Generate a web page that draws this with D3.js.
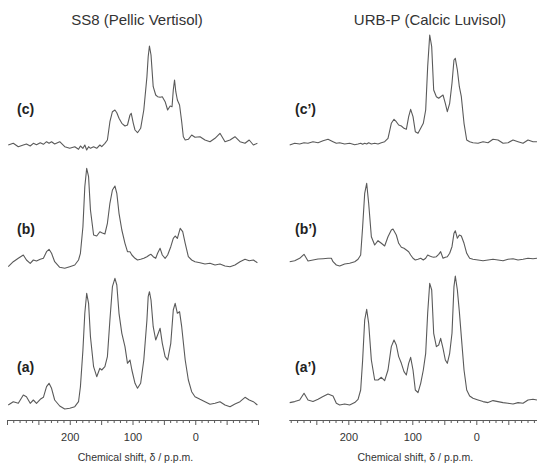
<!DOCTYPE html>
<html>
<head>
<meta charset="utf-8">
<script src="https://cdn.jsdelivr.net/npm/d3@7"></script>
<style>
  body { margin: 0; background: #fff; }
  svg { display: block; font-family: "Liberation Sans", Arial, sans-serif; }
</style>
</head>
<body>
<svg id="chart" width="537" height="466"></svg>
<script>
// spectra as [ppm, intensity] pairs
const ss8_a = [[298,0],[290,3.3],[282,1.7],[274,10],[269,8.3],[263,1.7],[258,5],[253,1.7],[247,5.7],[242,7.7],[237,18.3],[233,21.7],[229,16.7],[224,5],[216,-1],[208,-4],[200,-3.3],[192,-1.7],[186,3.3],[183,18.3],[179,55],[176,91.7],[173,111.7],[170,101.7],[167,68.3],[162,38.3],[157,28.3],[152,36.7],[149,35],[144,38.3],[140,48.3],[136,85],[132,118.3],[128,126.7],[125,120],[121.5,91.7],[117,71.7],[112,58.3],[108,41.7],[104,45],[101,35],[96,21.7],[92,16.7],[87,21.7],[82,45],[77,85],[75,108.3],[73,113.3],[70.5,105],[67,78.3],[63,65],[60,70],[56,76.7],[52.5,61.7],[48,48.3],[44,45],[39,61.7],[35,95],[32,101.7],[28.5,91.7],[25,93.3],[21.6,78.3],[16,45],[11,25],[5.7,13.3],[0.4,8.3],[-7.6,5.7],[-15.5,3.3],[-23.5,0.7],[-31.5,1.7],[-39.4,3.3],[-47.4,0],[-55.4,-1.7],[-63.3,1],[-71.3,3.3],[-79.3,7.7],[-86,5],[-92.6,3.3],[-99,0]]

const ss8_b = [[298,-0.7],[290,4.3],[282,7.7],[274,11],[269,6],[263,2.7],[258,6],[253,5],[247,6.7],[242,7.7],[237,14.3],[233,16.7],[229,12.7],[224,4.3],[216,-1.3],[208,-2.3],[200,-0.7],[192,1],[186,6],[183,12.7],[179,39.3],[176,79.3],[173,97.7],[170,89.3],[167,56],[162,31],[157,30],[152,34.3],[149,33.3],[144,32],[140,42.7],[136,62.7],[132,76],[128,80],[125,72.7],[121.5,52.7],[117,36],[112,22.7],[108,14.3],[104,14.3],[101,11],[96,7.7],[92,6],[87,6.7],[82,7.7],[77,9.3],[73,11],[70.5,11.7],[67,9.3],[63,7.7],[60,12.7],[56,17.7],[52.5,11],[48,7.7],[44,11],[39,19.3],[35,27.7],[32,30],[28.5,27.7],[24,37.7],[20,34.3],[16,22.7],[11,9.3],[5.7,6],[0.4,4.3],[-7.6,3.3],[-15.5,2],[-23.5,2.7],[-31.5,1],[-39.4,2],[-47.4,0],[-55.4,-0.7],[-63.3,1],[-71.3,4.3],[-79.3,6.7],[-86,5.3],[-92.6,6],[-99,3.3]]

const ss8_c = [[298,0],[290,1.7],[282,-1.7],[274,0],[269,1],[263,-1],[258,1.7],[253,0.3],[247,2.3],[242,0.7],[237,3.3],[233,1.7],[229,3.3],[224,1],[216,3.3],[208,-1.7],[200,-3.3],[192,-1.7],[186,-4.3],[183,-1],[179,-3.3],[176,0],[173,-5],[170,-1.7],[167,-3.3],[162,-1.7],[157,-3.3],[152,0],[149,-1.7],[144,1.7],[140,5],[136,23.3],[132,33.3],[128,35],[125,32.3],[121.5,26.7],[117,21.7],[112,19],[108,20],[104,30],[102,31.7],[98.7,21.7],[96,15],[92,12.3],[87,16.7],[82,35],[77,68.3],[75,88.3],[73,99],[70.5,90],[67,58.3],[63,50],[60,48.3],[56,47.7],[52.5,48.3],[48,43.3],[44,35],[40,39],[37,38.3],[35,55],[33,65],[31,53.3],[28.5,45],[25,40],[21.6,23.3],[19,8.3],[16,5],[11,5.7],[5.7,10],[0.4,7.7],[-7.6,8.3],[-15.5,5],[-23.5,3.3],[-31.5,6.7],[-39.4,11.7],[-47.4,3.3],[-55.4,5],[-63.3,8.3],[-71.3,3.3],[-79.3,1.7],[-86,5],[-92.6,0],[-99,1.7]]

const urb_a = [[291.6,0.7],[283.8,1.7],[276,3.3],[269.2,10],[263,3.3],[255.2,1.7],[247.3,4],[239.5,6.7],[231.7,9.3],[223.9,7.3],[218.7,0],[213.5,-1.7],[205.7,-0.7],[197.9,-1.7],[190,0.7],[184.8,4],[180.7,13.3],[177.6,43.3],[174.4,83.3],[171.3,94],[168.2,80],[164,43.3],[158.8,23.3],[153.6,23.3],[148.4,26],[143.2,22.7],[138,33.3],[132.8,56.7],[128.6,63.3],[125,58.3],[121.3,46.7],[117.1,40],[113,31.7],[109.3,28.3],[105.7,40],[102.6,46],[98.9,33.3],[95.3,13.3],[91.1,10.7],[86.9,20],[82.8,33.3],[79.1,50],[76,90],[72.8,120],[69.7,113.3],[66.6,70],[62.4,56.7],[58.8,58.3],[55.7,65],[52,55],[48.4,43.3],[45.3,40],[41.6,50],[38,70],[34.9,116.7],[32.8,127.3],[29.6,113.3],[26.5,91.7],[23.4,66.7],[19.2,33.3],[15,13.3],[10.4,7.3],[5.2,5],[-2.7,3.3],[-10.5,1.7],[-18.3,0.7],[-26.1,2.7],[-33.9,1.7],[-41.8,0.7],[-49.6,0],[-57.4,-0.7],[-65.2,0.7],[-73,0],[-80.8,3.3],[-88.6,4],[-94.8,3.3]]

const urb_b = [[291.6,-1.7],[283.8,-0.7],[276,1.7],[269.2,5.7],[263,-1],[255.2,0],[247.3,1],[239.5,1.3],[231.7,1.7],[226.5,1.7],[223.9,-1.7],[218.7,-5],[213.5,-6],[205.7,-4],[197.9,-3.3],[190,-1.7],[184.8,0.7],[180.7,5],[177.6,33.3],[174.4,66.7],[171.3,76.7],[168.2,56.7],[164,23.3],[158.8,15],[153.6,19.3],[148.4,16.7],[143.2,14],[138,23.3],[132.8,30],[130.2,31],[125,25],[121.3,16.7],[117.1,12.7],[113,11.7],[109.3,10],[105.7,8.3],[102.6,5],[98.9,1.7],[95.3,0],[91.1,0.7],[86.9,1.7],[82.8,0],[79.1,1.7],[76,5],[72.8,4],[69.7,3.3],[66.6,2.7],[62.4,3.3],[58.8,5.7],[55.7,8.3],[52,1.7],[48.4,2.7],[45.3,3.3],[41.6,6.7],[38,13.3],[34.9,26.7],[32.8,29.3],[29.6,21.7],[26.5,25],[23.4,24],[19.2,16.7],[15,6.7],[10.4,1.7],[5.2,0.7],[-2.7,0],[-10.5,-0.7],[-18.3,0],[-26.1,0.7],[-33.9,0],[-41.8,-0.7],[-49.6,0.7],[-57.4,1.3],[-65.2,0],[-73,0.7],[-80.8,1.7],[-88.6,1.3],[-94.8,1.7]]

const urb_c = [[291.6,-1],[283.8,0.7],[276,0],[269.2,1.3],[263,0.7],[255.2,2.3],[247.3,1.3],[239.5,3.3],[231.7,4.7],[223.9,2.3],[218.7,0.7],[213.5,1.3],[205.7,0],[197.9,0.7],[190,-0.7],[184.8,0],[180.7,0.7],[177.6,-0.3],[174.4,0.7],[171.3,0],[168.2,1.3],[164,0],[158.8,0.7],[153.6,0],[148.4,1.3],[143.2,2.3],[138,5.7],[132.8,20.7],[128.6,24.7],[125,22.3],[121.3,19],[117.1,18],[113,15.7],[109.3,14.7],[105.7,27.3],[102.6,34.7],[98.9,27.3],[95.3,12.3],[91.1,10.7],[86.9,15.7],[82.8,20.7],[79.1,34],[76,77.3],[72.8,109],[69.7,97.3],[66.6,54],[62.4,47.3],[58.8,45.7],[55.7,47.3],[52,49],[48.4,40.7],[45.3,32.3],[41.6,40.7],[38,60.7],[34.9,84],[32.8,85.7],[29.6,74],[26.5,57.3],[23.4,47.3],[19.2,20.7],[15,4],[10.4,2.3],[5.2,1.3],[-2.7,0.7],[-10.5,2.3],[-18.3,1.3],[-26.1,4.7],[-33.9,4],[-41.8,0.7],[-49.6,1.3],[-57.4,4],[-65.2,2.3],[-73,0.7],[-80.8,4],[-88.6,2.3],[-94.8,2.3]]

const titles = ['SS8 (Pellic Vertisol)', 'URB-P (Calcic Luvisol)']
const labelsLeft = ['(a)', '(b)', '(c)']
const labelsRight = ['(a\u2019)', '(b\u2019)', '(c\u2019)']
const tickLabels = [200, 100, 0]
const axisTitle = 'Chemical shift, \u03b4 / p.p.m.'

const svg = d3.select('#chart')
const ink = '#5a5a5a'

const panels = [
    {title: titles[0], cx: 137, domain: [300, -100], range: [7, 258],
     traces: [ss8_a, ss8_b, ss8_c], labels: labelsLeft, labelX: 17,
     base: [405, 266, 145]},
    {title: titles[1], cx: 430, domain: [293, -100], range: [288.8, 540.3],
     traces: [urb_a, urb_b, urb_c], labels: labelsRight, labelX: 295,
     base: [403.3, 260, 144]}
]

const labelY = [372, 234, 114]

panels.forEach(p => {
    let x = d3.scaleLinear().domain(p.domain).range(p.range)

    svg.append('text')
        .attr('x', p.cx)
        .attr('y', 25)
        .attr('text-anchor', 'middle')
        .attr('font-size', 15)
        .attr('fill', '#333')
        .text(p.title)

    p.traces.forEach((tr, i) => {
        let y = d3.scaleLinear().domain([0, 100]).range([p.base[i], p.base[i] - 100])
        let line = d3.line()
            .x(d => x(d[0]))
            .y(d => y(d[1]))
        svg.append('path')
            .attr('d', line(tr))
            .attr('fill', 'none')
            .attr('stroke', ink)
            .attr('stroke-width', 1.1)
            .attr('stroke-linejoin', 'round')

        svg.append('text')
            .attr('x', p.labelX)
            .attr('y', labelY[i])
            .attr('font-size', 14)
            .attr('font-weight', 'bold')
            .attr('fill', '#222')
            .text(p.labels[i])
    })

    // axis: minor ticks every 10, longer every 50
    let ticks = d3.range(300, -101, -10).filter(v => v <= p.domain[0])
    let axis = d3.axisBottom(x)
        .tickValues(ticks)
        .tickSize(3)
        .tickSizeOuter(0)
        .tickFormat(d => tickLabels.includes(d) ? d : '')
    let g = svg.append('g')
        .attr('transform', 'translate(0,420)')
        .call(axis)
    g.select('.domain').attr('stroke', ink)
    g.selectAll('.tick line').attr('stroke', ink)
        .attr('y2', d => d % 50 === 0 ? 5 : 3)
    g.selectAll('.tick text')
        .attr('font-size', 11)
        .attr('font-family', '"Liberation Sans", Arial, sans-serif')
        .attr('fill', '#333')
        .attr('y', 13)

    svg.append('text')
        .attr('x', (x(200) + x(0)) / 2 + 3)
        .attr('y', 461)
        .attr('text-anchor', 'middle')
        .attr('font-size', 10.5)
        .attr('fill', '#333')
        .text(axisTitle)
})
</script>
</body>
</html>
